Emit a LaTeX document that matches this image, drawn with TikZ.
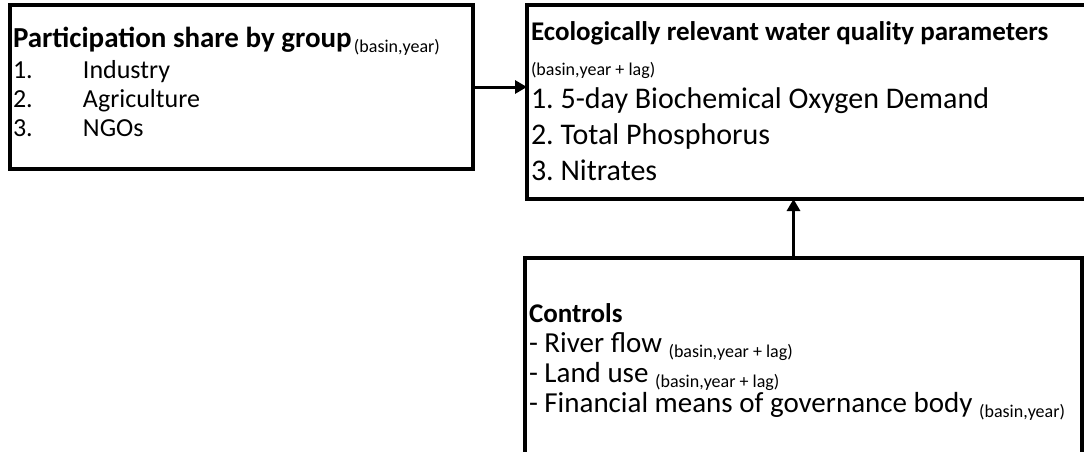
\documentclass[tikz,border=0pt]{standalone}
\usepackage{fontspec}
\setmainfont{Carlito}
\usetikzlibrary{arrows.meta,positioning}
\tikzset{
    groupbox/.style={draw, line width=3.5pt, inner sep=0pt, outer sep=0pt},
    flowarrow/.style={-{Triangle[length=12pt,width=13pt]}, line width=3pt}
}
\newcommand{\boxtitle}{\fontsize{29}{30}\bfseries}
\newcommand{\boxitem}{\fontsize{26}{29}\selectfont}
\newcommand{\idxlow}[1]{\raisebox{-5pt}{\fontsize{18}{18}\selectfont #1}}
\frenchspacing

\begin{document}
\begin{tikzpicture}[x=1pt, y=-1pt]
    \useasboundingbox (0,0) rectangle (1084,452);
    \node[groupbox, anchor=north west] (share) at (10,5) {\begin{minipage}[t][164pt][t]{463pt}
        \setlength{\parindent}{0pt}\leftskip=3pt
        \vspace*{22pt}
        {\boxtitle Participation share by group} \idxlow{(basin,year)}\par
        \vspace{2pt}
        \boxitem
        \makebox[70pt][l]{1.}Industry\par
        \makebox[70pt][l]{2.}Agriculture\par
        \makebox[70pt][l]{3.}NGOs\par
    \end{minipage}};
    \node[groupbox, right=54pt of share.north east, anchor=north west] (quality) {\begin{minipage}[t][194pt][t]{570pt}
        \setlength{\parindent}{0pt}\leftskip=4pt
        \vspace*{17pt}
        {\fontsize{27}{30}\bfseries Ecologically relevant water quality parameters}\par
        \vspace{16pt}
        {\fontsize{18}{20}\selectfont (basin,year + lag)}\par
        \vspace{-3pt}
        {\fontsize{30}{36}\selectfont 1. 5-day Biochemical Oxygen Demand\par
        2. Total Phosphorus\par
        3. Nitrates\par}
    \end{minipage}};
    \node[groupbox, below=59pt of quality.south west, anchor=north west, xshift=-2pt] (controls) {\begin{minipage}[t][212pt][t]{557pt}
        \setlength{\parindent}{0pt}\leftskip=4pt
        \vspace*{46pt}
        {\fontsize{27}{30}\bfseries Controls}\par
        \vspace{0pt}
        {\fontsize{29}{30}\selectfont
        - River flow \idxlow{(basin,year + lag)}\par
        - Land use \idxlow{(basin,year + lag)}\par
        - Financial means of governance body \idxlow{(basin,year)}\par}
    \end{minipage}};
    \draw[flowarrow] (share.east) -- (share.east -| quality.west);
    \draw[flowarrow] ([xshift=-10pt]controls.north) -- ([xshift=-10pt]controls.north |- quality.south);
\end{tikzpicture}
\end{document}
